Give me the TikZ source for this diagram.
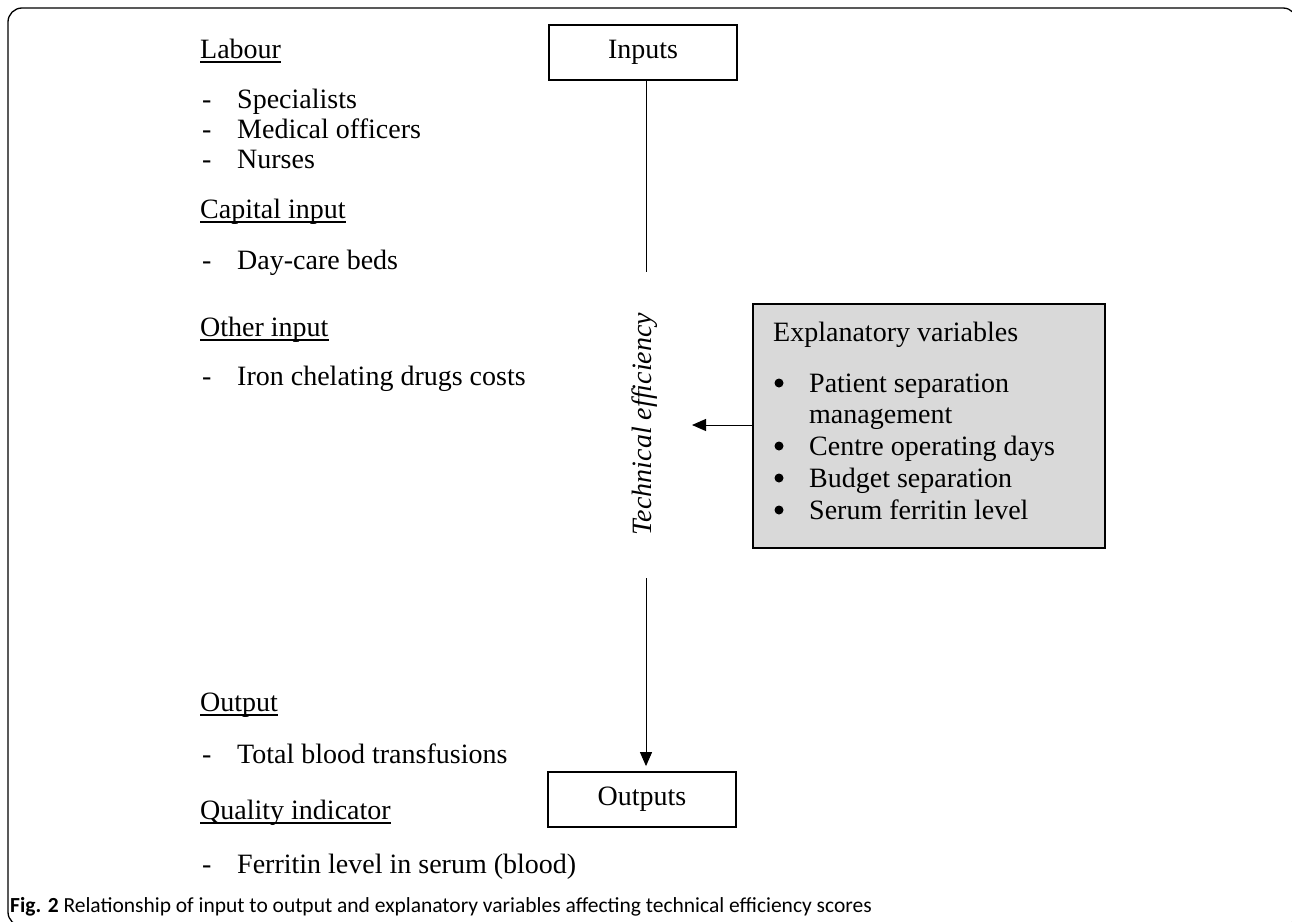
\documentclass[tikz,border=0pt]{standalone}
\usepackage{fontspec}
\setmainfont{Liberation Serif}
\newfontfamily\capfont{Carlito}
\usetikzlibrary{arrows.meta}
\newcommand\myul[1]{\setbox0=\hbox{#1}\rlap{\rule[-4.5pt]{\wd0}{1.2pt}}\box0}
\begin{document}
\begin{tikzpicture}[x=1pt,y=-1pt,
 txt/.style={anchor=base west,inner sep=0pt,font=\fontsize{28}{32}\selectfont},
 bul/.style={circle,fill=black,inner sep=0pt,minimum size=9pt},
 boxnode/.style={draw,line width=1.8pt,minimum width=188pt,minimum height=55pt,inner sep=0pt,font=\fontsize{28}{32}\selectfont},
 conn/.style={line width=1pt},
 tip/.style={-{Triangle[length=14pt,width=12pt]}}
]
\useasboundingbox (0,0) rectangle (1292,921);
\draw[line width=1.3pt, rounded corners=14pt] (8,8) rectangle (1297,926);
% left column
\node[txt] (labour) at (200,58) {\myul{Labour}};
\node[txt] (d1) at (202,108) {-}; \node[txt] (spec) at (237,108) {Specialists};
\node[txt] (d2) at (202,138) {-}; \node[txt] (med) at (237,138) {Medical officers};
\node[txt] (d3) at (202,168) {-}; \node[txt] (nur) at (237,168) {Nurses};
\node[txt] (capin) at (200,218) {\myul{Capital input}};
\node[txt] (d4) at (202,269) {-}; \node[txt] (beds) at (237,269) {Day-care beds};
\node[txt] (othin) at (200,336) {\myul{Other input}};
\node[txt] (d5) at (202,385) {-}; \node[txt] (iron) at (237,385) {Iron chelating drugs costs};
\node[txt] (outp) at (200,711) {\myul{Output}};
\node[txt] (d6) at (202,763) {-}; \node[txt] (tbt) at (237,763) {Total blood transfusions};
\node[txt] (qual) at (200,819) {\myul{Quality indicator}};
\node[txt] (d7) at (202,873) {-}; \node[txt] (ferr) at (237,873) {Ferritin level in serum (blood)};
% centre column
\node[boxnode] (inputs) at (643,52.5) {Inputs};
\node[boxnode] (outputs) at (642,799.5) {Outputs};
\node[rotate=90, inner sep=0pt, font=\itshape\fontsize{28}{32}\selectfont] (te) at (645,424) {Technical efficiency};
\coordinate (c1) at (646,272);
\coordinate (c2) at (646,578);
\coordinate (c3) at (692,425);
\draw[conn] (inputs.south -| c1) -- (c1);
\draw[conn,tip,shorten >=5pt] (c2) -- (c2 |- outputs.north);
% explanatory box
\node[draw, fill=black!15, line width=1.8pt, minimum width=352pt, minimum height=244pt, inner sep=0pt] (expl) at (929,426) {};
\draw[conn,tip] (expl.west |- c3) -- (c3);
\node[txt] (exh) at (773,341) {Explanatory variables};
\node[bul] (b1) at (779,383) {}; \node[txt] (e1) at (809,392) {Patient separation};
\node[txt] (e1b) at (809,423) {management};
\node[bul] (b2) at (779,446) {}; \node[txt] (e2) at (809,455) {Centre operating days};
\node[bul] (b3) at (779,478) {}; \node[txt] (e3) at (809,487) {Budget separation};
\node[bul] (b4) at (779,510) {}; \node[txt] (e4) at (809,519) {Serum ferritin level};
% caption
\node[anchor=base west, inner sep=0pt, font=\capfont\fontsize{21.5}{26}\selectfont] (cap) at (10,912) {\textbf{Fig. 2} Relationship of input to output and explanatory variables affecting technical efficiency scores};
\end{tikzpicture}
\end{document}
